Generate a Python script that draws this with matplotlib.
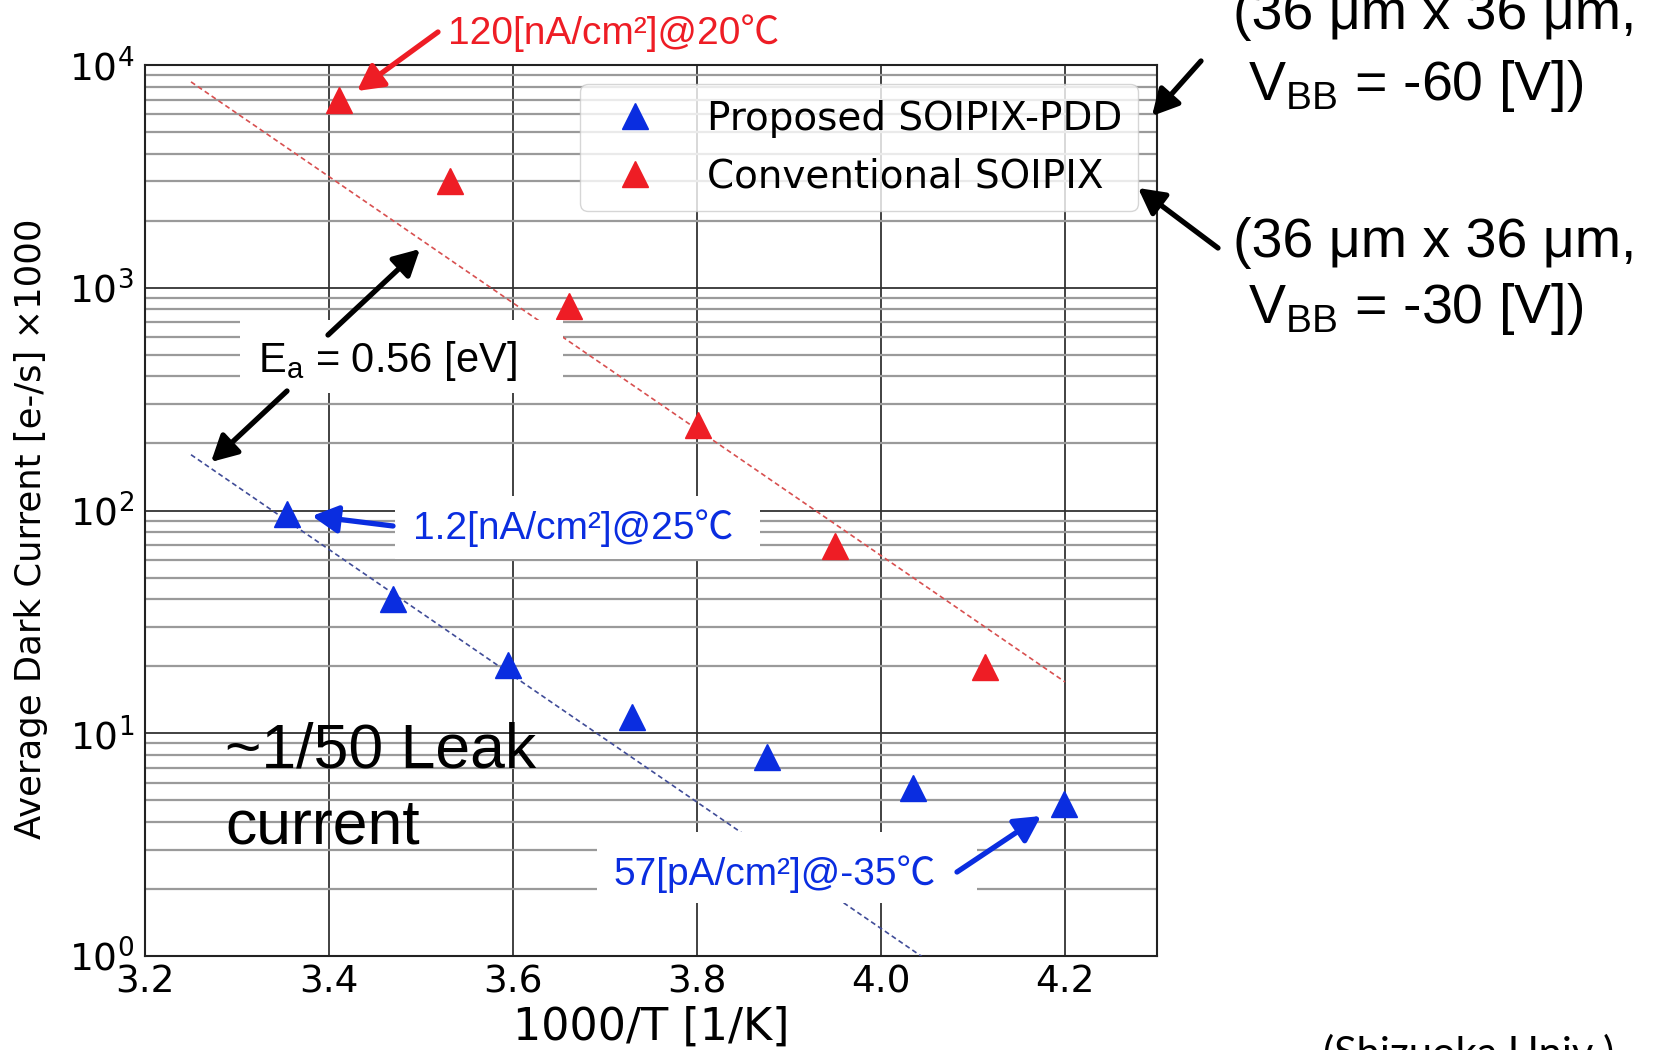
import matplotlib
matplotlib.use("Agg")
import matplotlib.pyplot as plt
from matplotlib.patches import FancyArrowPatch, Rectangle
from matplotlib.ticker import FixedLocator, FormatStrFormatter, NullFormatter

# ---------------- data ----------------
prop_x = [3.354, 3.470, 3.595, 3.729, 3.876, 4.035, 4.199]
prop_y = [96, 40, 20.3, 11.8, 7.8, 5.7, 4.8]
conv_x = [3.411, 3.532, 3.661, 3.801, 3.950, 4.113]
conv_y = [7000, 3000, 830, 242, 69, 19.8]
fit_x = [3.25, 4.20]
fit_conv_y = [8400, 17]
fit_prop_y = [178, 0.36]
x_ticks = [3.2, 3.4, 3.6, 3.8, 4.0, 4.2]
legend_labels = ["Proposed SOIPIX-PDD", "Conventional SOIPIX"]

W, H = 1654, 1050
fig = plt.figure(figsize=(W / 100, H / 100), dpi=100)
fig.patch.set_facecolor("white")


def F(x, y):
    return (x / W, 1 - y / H)


ax = fig.add_axes([145 / W, 1 - 956 / H, (1157 - 145) / W, (956 - 65) / H])
ax.set_yscale("log")
ax.set_xlim(3.2, 4.3)
ax.set_ylim(1, 1e4)

RED = "#ee1d25"
BLUE = "#0a2de0"

ax.plot(fit_x, fit_conv_y, linestyle=(0, (3, 2)), color="#d85050", lw=1.2, zorder=3)
ax.plot(fit_x, fit_prop_y, linestyle=(0, (3, 2)), color="#404c98", lw=1.2, zorder=3)
ax.plot(prop_x, prop_y, "^", color=BLUE, ms=19, ls="none", label=legend_labels[0], zorder=4)
ax.plot(conv_x, conv_y, "^", color=RED, ms=19, ls="none", label=legend_labels[1], zorder=4)

ax.xaxis.set_major_locator(FixedLocator(x_ticks))
ax.xaxis.set_major_formatter(FormatStrFormatter("%.1f"))
ax.yaxis.set_minor_formatter(NullFormatter())
ax.tick_params(which="both", length=0, labelsize=27, pad=8)
ax.tick_params(axis="x", pad=6)
ax.grid(True, which="major", color="#333333", lw=1.3)
ax.grid(True, which="minor", axis="y", color="#9a9a9a", lw=1.6)
ax.set_axisbelow(True)
for s in ax.spines.values():
    s.set_linewidth(1.5)
    s.set_color("#222222")

ax.set_xlabel("1000/T [1/K]", fontsize=32, labelpad=4)
ax.set_ylabel("Average Dark Current [e-/s] ×1000", fontsize=25.5)
ax.yaxis.set_label_coords(-0.096, 0.48)

ax.legend(loc="upper right", fontsize=28, handletextpad=0.85, borderpad=0.4)

# ---------------- annotations ----------------
AF = ["Liberation Sans", "Noto Sans CJK JP", "DejaVu Sans"]


def arrow(start, tip, color):
    a = FancyArrowPatch(F(*start), F(*tip), transform=fig.transFigure,
                        arrowstyle="-|>,head_length=0.6,head_width=0.32",
                        mutation_scale=26, lw=3.8, color=color,
                        shrinkA=0, shrinkB=0, zorder=6)
    fig.add_artist(a)


def whitebox(x0, y0, x1, y1):
    r = Rectangle(F(x0, y1), (x1 - x0) / W, (y1 - y0) / H, transform=fig.transFigure,
                  facecolor="white", edgecolor="none", zorder=4)
    fig.add_artist(r)


def text(x, y, s, size, color="black", **kw):
    kwargs = dict(fontsize=size, color=color, family=AF, ha="left", va="baseline", zorder=5)
    kwargs.update(kw)
    fig.text(*F(x, y), s, **kwargs)


text(448, 44, "120[nA/cm²]@20℃", 28, RED)
arrow((438, 32), (357, 91), RED)

text(1233, 29, "(36 μm x 36 μm,", 40)
text(1233, 100, r" V$_\mathregular{BB}$ = -60 [V])", 40)
arrow((1201, 61), (1152, 116), "black")

text(1233, 257, "(36 μm x 36 μm,", 40)
text(1233, 323, r" V$_\mathregular{BB}$ = -30 [V])", 40)
arrow((1218, 248), (1138, 188), "black")

whitebox(240, 320, 563, 393)
text(258, 372, r"E$_\mathregular{a}$ = 0.56 [eV]", 30)
arrow((328, 335), (420, 249), "black")
arrow((287, 391), (211, 462), "black")

whitebox(395, 496, 760, 559)
text(413, 539, "1.2[nA/cm²]@25℃", 28, BLUE)
arrow((393, 526), (312, 516), BLUE)

whitebox(597, 832, 977, 903)
text(613, 885, "57[pA/cm²]@-35℃", 28, BLUE)
arrow((957, 872), (1041, 816), BLUE)

text(225, 768, "~1/50 Leak", 45)
text(225, 844, "current", 45)

fig.text(*F(1323, 1034), "(Shizuoka Univ.)", fontsize=30, family=["Lato", "DejaVu Sans"],
         ha="left", va="top")

fig.savefig("out.png", dpi=100)
